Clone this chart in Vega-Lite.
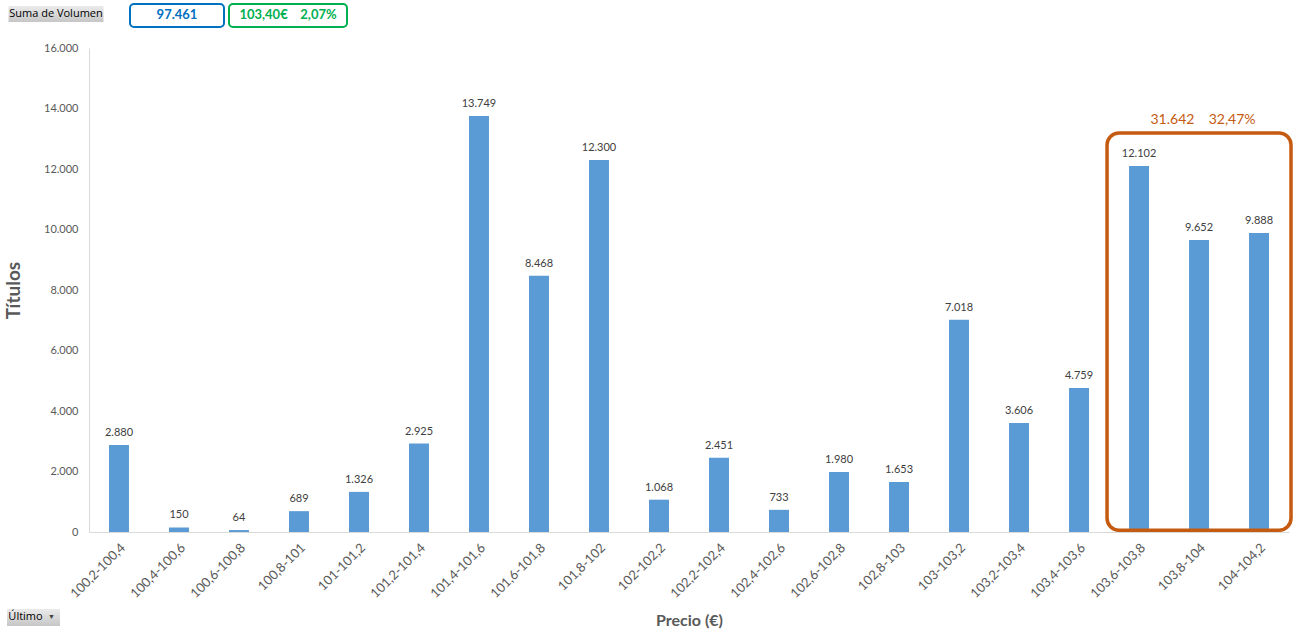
{
  "$schema": "https://vega.github.io/schema/vega-lite/v6.json",
  "width": 1200,
  "height": 484,
  "autosize": {"type": "none"},
  "padding": {"left": 89, "top": 48, "right": 17, "bottom": 102},
  "config": {
    "locale": {"number": {"decimal": ",", "thousands": ".", "grouping": [3], "currency": ["", "€"]}},
    "view": {"stroke": null},
    "font": "Lato"
  },
  "datasets": {
    "vol": [
      {"precio": "100,2-100,4", "volumen": 2880},
      {"precio": "100,4-100,6", "volumen": 150},
      {"precio": "100,6-100,8", "volumen": 64},
      {"precio": "100,8-101", "volumen": 689},
      {"precio": "101-101,2", "volumen": 1326},
      {"precio": "101,2-101,4", "volumen": 2925},
      {"precio": "101,4-101,6", "volumen": 13749},
      {"precio": "101,6-101,8", "volumen": 8468},
      {"precio": "101,8-102", "volumen": 12300},
      {"precio": "102-102,2", "volumen": 1068},
      {"precio": "102,2-102,4", "volumen": 2451},
      {"precio": "102,4-102,6", "volumen": 733},
      {"precio": "102,6-102,8", "volumen": 1980},
      {"precio": "102,8-103", "volumen": 1653},
      {"precio": "103-103,2", "volumen": 7018},
      {"precio": "103,2-103,4", "volumen": 3606},
      {"precio": "103,4-103,6", "volumen": 4759},
      {"precio": "103,6-103,8", "volumen": 12102},
      {"precio": "103,8-104", "volumen": 9652},
      {"precio": "104-104,2", "volumen": 9888}
    ],
    "box": [
      {"from": "103,6-103,8", "to": "104-104,2", "mid": "103,8-104", "top": 13190, "bottom": 60, "labelY": 13620, "label": "31.642\u00a0\u00a0\u00a0\u00a032,47%"}
    ]
  },
  "layer": [
    {
      "layer": [
        {
          "data": {"name": "vol"},
          "mark": {"type": "bar", "color": "#5B9BD5"},
          "encoding": {
            "x": {
              "field": "precio", "type": "nominal", "sort": null,
              "scale": {
                "domain": ["100,2-100,4","100,4-100,6","100,6-100,8","100,8-101","101-101,2","101,2-101,4","101,4-101,6","101,6-101,8","101,8-102","102-102,2","102,2-102,4","102,4-102,6","102,6-102,8","102,8-103","103-103,2","103,2-103,4","103,4-103,6","103,6-103,8","103,8-104","104-104,2"],
                "paddingInner": 0.667, "paddingOuter": 0.333
              },
              "axis": {
                "title": "Precio (€)", "titleFont": "Lato", "titleFontSize": 16, "titleFontWeight": "bold", "titleColor": "#595959", "titlePadding": 12,
                "labelAngle": -45, "labelFont": "Lato", "labelFontSize": 13, "labelColor": "#595959", "labelPadding": 9,
                "ticks": false, "domainColor": "#d9d9d9", "grid": false
              }
            },
            "y": {
              "field": "volumen", "type": "quantitative",
              "scale": {"domain": [0, 16000], "nice": false},
              "axis": {
                "title": "Títulos", "titleFont": "Lato", "titleFontSize": 19, "titleFontWeight": "bold", "titleColor": "#595959", "titlePadding": 20,
                "labelFont": "Lato", "labelFontSize": 11, "labelColor": "#595959", "labelPadding": 11,
                "ticks": false, "domainColor": "#d9d9d9", "grid": false, "values": [0,2000,4000,6000,8000,10000,12000,14000,16000], "format": ",d"
              }
            }
          }
        },
        {
          "data": {"name": "vol"},
          "mark": {"type": "text", "baseline": "bottom", "dy": -7, "fontSize": 11, "font": "Lato", "color": "#404040"},
          "encoding": {
            "x": {"field": "precio", "type": "nominal", "sort": null},
            "y": {"field": "volumen", "type": "quantitative"},
            "text": {"field": "volumen", "type": "quantitative", "format": ",d"}
          }
        },
        {
          "data": {"name": "box"},
          "mark": {"type": "rect", "fill": null, "fillOpacity": 0, "stroke": "#C55A11", "strokeWidth": 3.5, "cornerRadius": 12, "xOffset": -22, "x2Offset": 22},
          "encoding": {
            "x": {"field": "from", "type": "nominal", "bandPosition": 0},
            "x2": {"field": "to", "bandPosition": 1},
            "y": {"field": "top", "type": "quantitative"},
            "y2": {"field": "bottom"}
          }
        },
        {
          "data": {"name": "box"},
          "mark": {"type": "text", "baseline": "middle", "fontSize": 14, "font": "Lato", "color": "#C55A11", "dx": 4},
          "encoding": {
            "x": {"field": "mid", "type": "nominal"},
            "y": {"field": "labelY", "type": "quantitative"},
            "text": {"field": "label"}
          }
        }
      ]
    },
    {
      "data": {"values": [{"w": "Suma de Volumen"}, {"w": "97.461"}, {"w": "103,40€\u00a0\u00a0\u00a0\u00a02,07%"}]},
      "encoding": {
        "x": {"field": "w", "type": "nominal", "sort": null, "axis": null,
          "scale": {"domain": ["Suma de Volumen", "97.461", "103,40€\u00a0\u00a0\u00a0\u00a02,07%"], "range": [-91, 257], "paddingInner": 0, "paddingOuter": 0}},
        "y": {"datum": 17000, "type": "quantitative", "axis": null, "scale": {"domain": [0, 16000], "nice": false}}
      },
      "layer": [
        {
          "transform": [{"filter": "datum.w == 'Suma de Volumen'"}],
          "mark": {"type": "bar", "width": 95, "fill": {"gradient": "linear", "x1": 0, "y1": 0, "x2": 0, "y2": 1, "stops": [{"offset": 0, "color": "#ebebeb"}, {"offset": 1, "color": "#c6c6c6"}]}},
          "encoding": {
            "y": {"datum": 17388, "type": "quantitative"},
            "y2": {"datum": 16860}
          }
        },
        {
          "transform": [{"filter": "datum.w == 'Suma de Volumen'"}],
          "mark": {"type": "text", "fontSize": 11, "font": "Open Sans", "color": "#000000", "baseline": "middle"},
          "encoding": {
            "y": {"datum": 17124, "type": "quantitative"},
            "text": {"field": "w"}
          }
        },
        {
          "transform": [{"filter": "datum.w == '97.461'"}],
          "mark": {"type": "bar", "width": 94, "fill": "#ffffff", "stroke": "#0070C0", "strokeWidth": 2, "cornerRadius": 4, "xOffset": 5},
          "encoding": {
            "y": {"datum": 17455, "type": "quantitative"},
            "y2": {"datum": 16694}
          }
        },
        {
          "transform": [{"filter": "datum.w == '97.461'"}],
          "mark": {"type": "text", "fontSize": 13, "font": "Lato", "fontWeight": "bold", "baseline": "middle", "color": "#0070C0", "dx": 5},
          "encoding": {
            "y": {"datum": 17075, "type": "quantitative"},
            "text": {"field": "w"}
          }
        },
        {
          "transform": [{"filter": "datum.w != '97.461' && datum.w != 'Suma de Volumen'"}],
          "mark": {"type": "bar", "width": 118, "fill": "#ffffff", "stroke": "#00B050", "strokeWidth": 2, "cornerRadius": 4},
          "encoding": {
            "y": {"datum": 17455, "type": "quantitative"},
            "y2": {"datum": 16694}
          }
        },
        {
          "transform": [{"filter": "datum.w != '97.461' && datum.w != 'Suma de Volumen'"}],
          "mark": {"type": "text", "fontSize": 13, "font": "Lato", "fontWeight": "bold", "baseline": "middle", "color": "#00B050"},
          "encoding": {
            "y": {"datum": 17075, "type": "quantitative"},
            "text": {"field": "w"}
          }
        }
      ]
    },
    {
      "data": {"values": [{"w": "Último"}]},
      "encoding": {
        "x": {"field": "w", "type": "nominal", "axis": null, "scale": {"domain": ["Último"], "range": [-82, -29], "paddingInner": 0, "paddingOuter": 0}},
        "y": {"datum": -2826, "type": "quantitative", "axis": null, "scale": {"domain": [0, 16000], "nice": false}}
      },
      "layer": [
        {
          "mark": {"type": "bar", "fill": {"gradient": "linear", "x1": 0, "y1": 0, "x2": 0, "y2": 1, "stops": [{"offset": 0, "color": "#ebebeb"}, {"offset": 1, "color": "#c6c6c6"}]}},
          "encoding": {
            "y": {"datum": -2545, "type": "quantitative"},
            "y2": {"datum": -3107}
          }
        },
        {
          "mark": {"type": "text", "fontSize": 11, "font": "Open Sans", "color": "#000000", "baseline": "middle", "dx": -8},
          "encoding": {
            "text": {"field": "w"}
          }
        },
        {
          "mark": {"type": "text", "fontSize": 7, "color": "#404040", "baseline": "middle", "dx": 18},
          "encoding": {
            "text": {"value": "▼"}
          }
        }
      ]
    }
  ],
  "resolve": {"scale": {"x": "independent", "y": "independent"}}
}
